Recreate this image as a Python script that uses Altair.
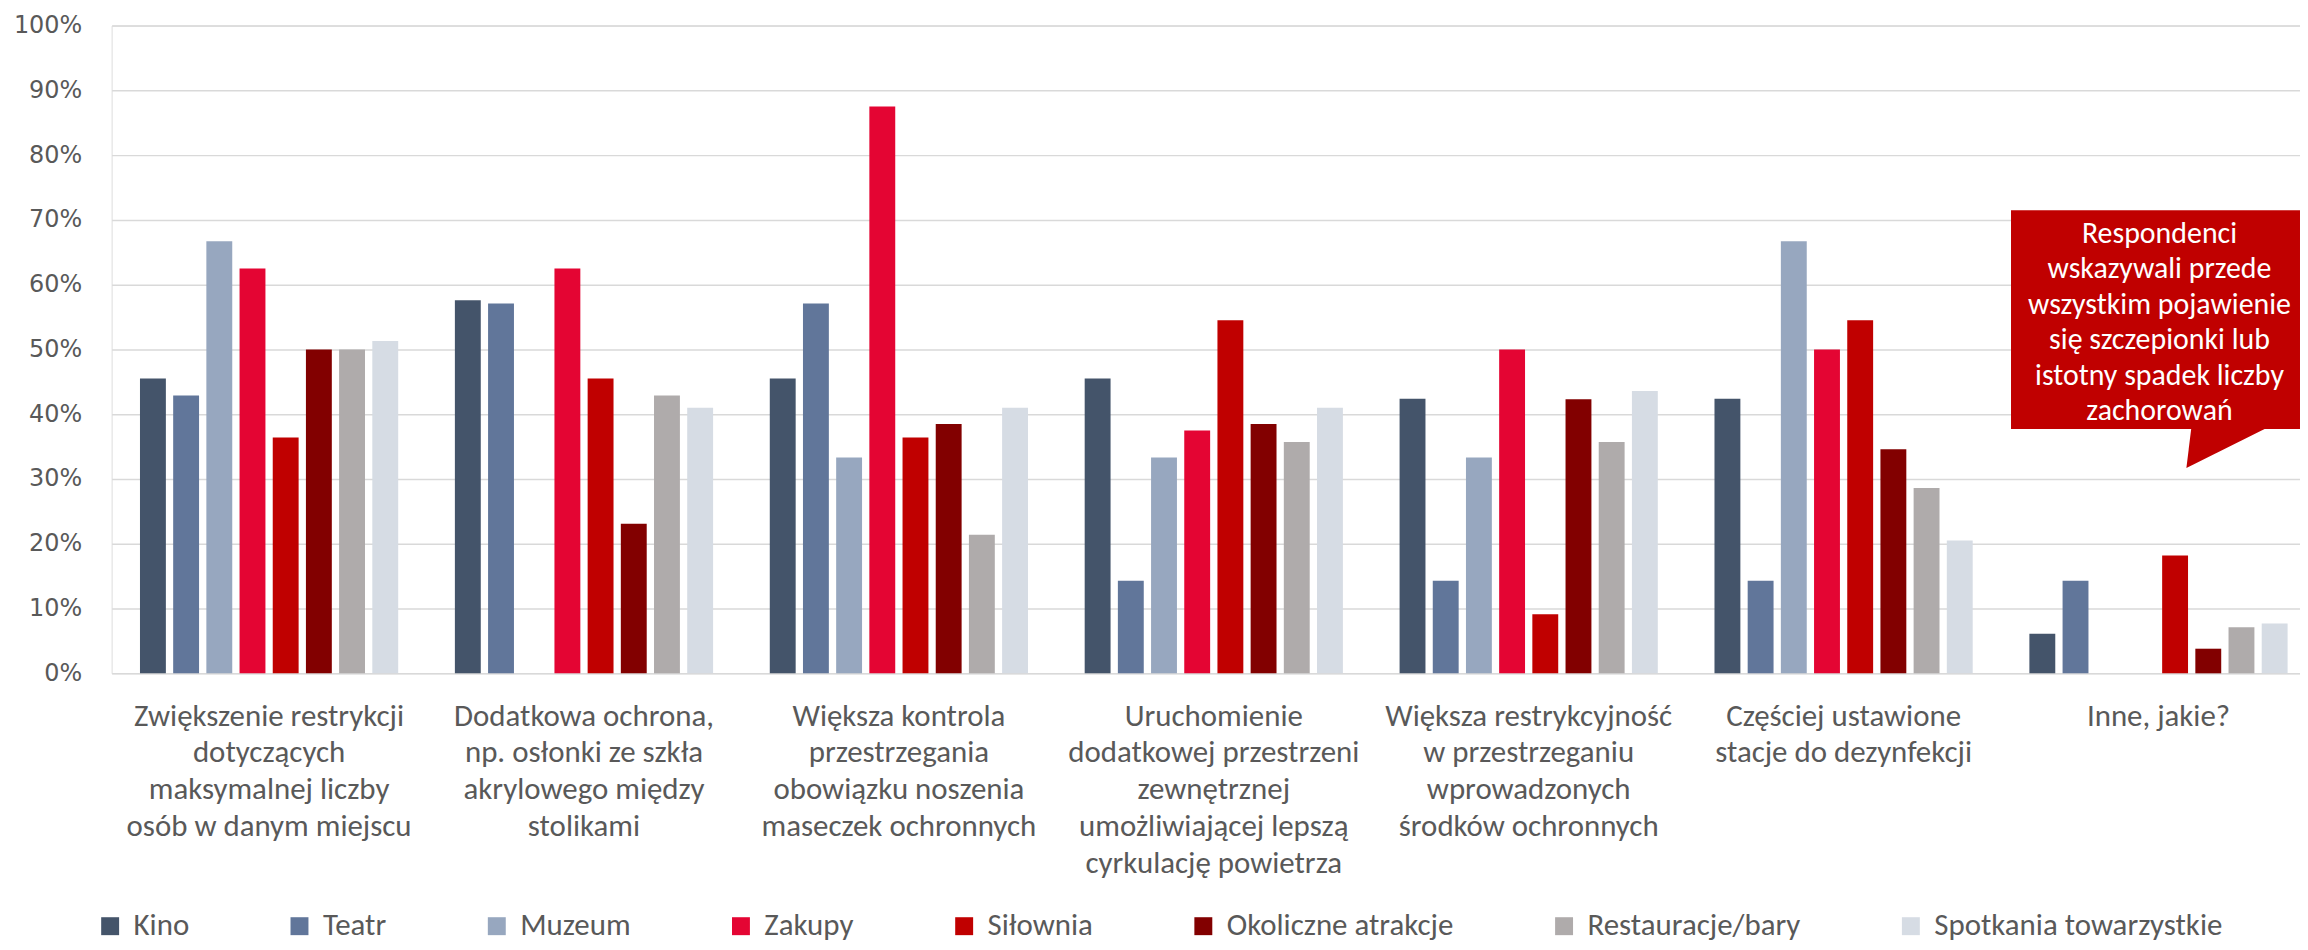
import altair as alt
import pandas as pd

# ---- data ----
categories = [
    "Zwiększenie restrykcji\ndotyczących\nmaksymalnej liczby\nosób w danym miejscu",
    "Dodatkowa ochrona,\nnp. osłonki ze szkła\nakrylowego między\nstolikami",
    "Większa kontrola\nprzestrzegania\nobowiązku noszenia\nmaseczek ochronnych",
    "Uruchomienie\ndodatkowej przestrzeni\nzewnętrznej\numożliwiającej lepszą\ncyrkulację powietrza",
    "Większa restrykcyjność\nw przestrzeganiu\nwprowadzonych\nśrodków ochronnych",
    "Częściej ustawione\nstacje do dezynfekcji",
    "Inne, jakie?",
]
series = ["Kino", "Teatr", "Muzeum", "Zakupy", "Siłownia",
          "Okoliczne atrakcje", "Restauracje/bary", "Spotkania towarzystkie"]
colors = ["#44546A", "#61769A", "#97A7BF", "#E40533", "#C00000",
          "#820000", "#AFABAB", "#D6DCE4"]

kino = [45.5, 57.6, 45.5, 45.5, 42.4, 42.4, 6.1]
teatr = [42.9, 57.1, 57.1, 14.3, 14.3, 14.3, 14.3]
muzeum = [66.7, 0.0, 33.3, 33.3, 33.3, 66.7, 0.0]
zakupy = [62.5, 62.5, 87.5, 37.5, 50.0, 50.0, 0.0]
silownia = [36.4, 45.5, 36.4, 54.5, 9.1, 54.5, 18.2]
okoliczne = [50.0, 23.1, 38.5, 38.5, 42.3, 34.6, 3.8]
restauracje = [50.0, 42.9, 21.4, 35.7, 35.7, 28.6, 7.1]
spotkania = [51.3, 41.0, 41.0, 41.0, 43.6, 20.5, 7.7]

y_ticks = [0, 10, 20, 30, 40, 50, 60, 70, 80, 90, 100]

callout_lines = ["Respondenci", "wskazywali przede", "wszystkim pojawienie",
                 "się szczepionki lub", "istotny spadek liczby", "zachorowań"]
callout_top = 71.5      # % on the y scale
callout_bottom = 37.7
callout_first_line = 67.8

# ---- build table ----
values = [kino, teatr, muzeum, zakupy, silownia, okoliczne, restauracje, spotkania]
rows = []
for s, vals in zip(series, values):
    for c, v in zip(categories, vals):
        rows.append({"category": c, "series": s, "value": v})
df = pd.DataFrame(rows)

LABEL_FONT = "Carlito, Lato, sans-serif"
GREY = "#595959"

y_scale = alt.Scale(domain=[0, 100])

bars = alt.Chart(df).mark_bar().encode(
    x=alt.X("category:N", sort=categories,
            scale=alt.Scale(domain=categories, range=[0, 2212],
                            paddingInner=0.18, paddingOuter=0.09),
            axis=alt.Axis(title=None, labelAngle=0, domain=False, ticks=False,
                          labelFont=LABEL_FONT, labelFontSize=31, labelColor=GREY,
                          labelLineHeight=37, labelPadding=28, labelLimit=0,
                          labelExpr="split(datum.label, '\\n')")),
    xOffset=alt.XOffset("series:N", sort=series,
                        scale=alt.Scale(domain=series, paddingInner=0.22, paddingOuter=0)),
    y=alt.Y("value:Q", scale=y_scale,
            axis=alt.Axis(title=None, values=y_ticks, grid=True, gridColor="#D9D9D9",
                          gridWidth=1.5, domain=False, ticks=False,
                          labelFont="DejaVu Sans", labelFontSize=24, labelColor=GREY,
                          labelPadding=30, labelExpr="datum.value + '%'")),
    color=alt.Color("series:N", sort=series,
                    scale=alt.Scale(domain=series, range=colors),
                    legend=alt.Legend(title=None, orient="none", legendX=-17, legendY=888,
                                      direction="horizontal", columns=8, columnPadding=95,
                                      symbolType="square", symbolSize=324,
                                      symbolStrokeWidth=0, labelFont=LABEL_FONT,
                                      labelFontSize=31, labelColor=GREY, labelOffset=8,
                                      labelLimit=0)),
)

callout_df = pd.DataFrame([{"top": callout_top, "bottom": callout_bottom,
                            "first": callout_first_line}])

box = alt.Chart(callout_df).mark_rect(color="#C00000").encode(
    x=alt.value(1906), x2=alt.value(2196),
    y=alt.Y("top:Q", scale=y_scale), y2="bottom:Q",
)

pointer = alt.Chart(callout_df).mark_point(
    shape="M -0.72 -0.04 L 0.82 -0.04 L -0.82 0.78 Z",
    filled=True, color="#C00000", opacity=1, strokeWidth=0, size=10000,
).encode(
    x=alt.value(2123),
    y=alt.Y("bottom:Q", scale=y_scale),
)

text = alt.Chart(callout_df).mark_text(
    font=LABEL_FONT, fontSize=30, color="white", align="center",
    baseline="middle", lineHeight=35.5,
).encode(
    x=alt.value(2055),
    y=alt.Y("first:Q", scale=y_scale),
    text=alt.value(callout_lines),
)

chart = alt.layer(bars, box, pointer, text).properties(
    width=2196, height=650,
    autosize=alt.AutoSizeParams(type="none"),
    padding={"left": 104, "top": 16, "right": 0, "bottom": 274},
).configure_view(stroke=None).configure(background="white")

chart.save("out.html", embed_options={"renderer": "svg", "actions": False})
